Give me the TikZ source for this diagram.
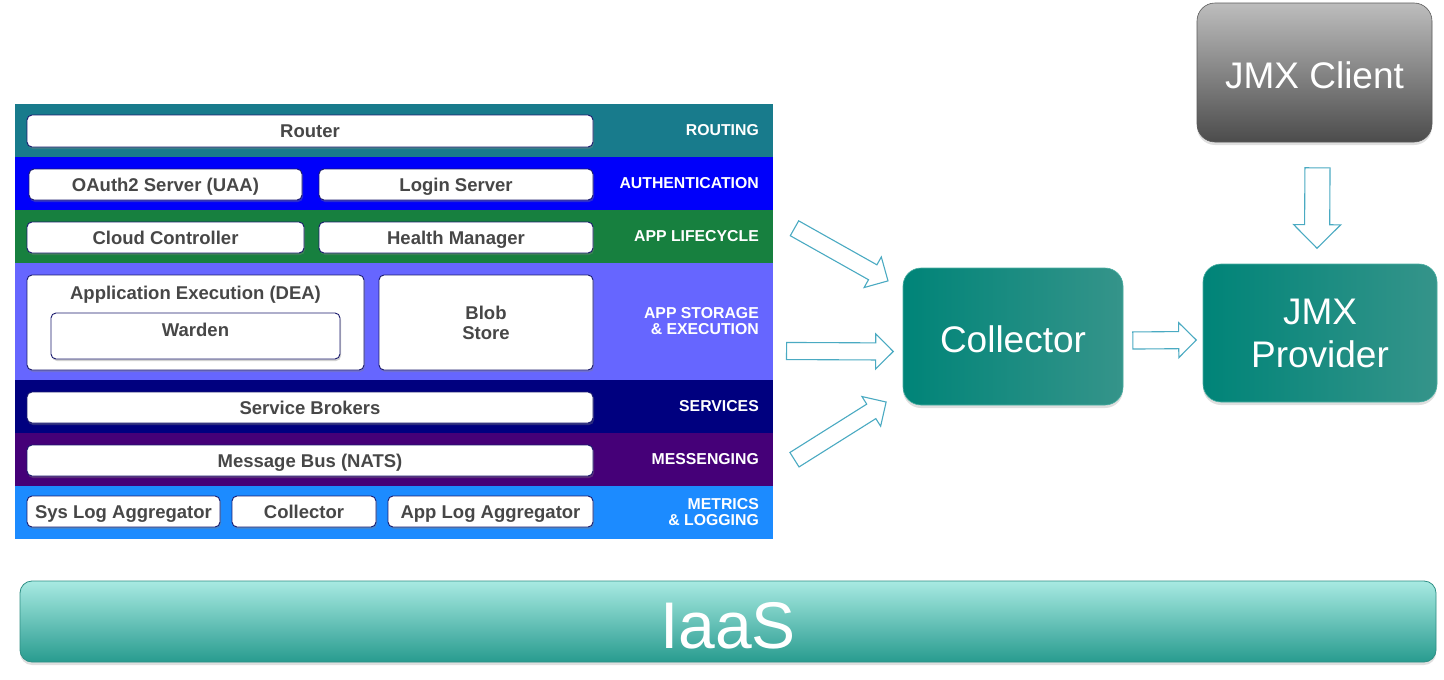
\documentclass[tikz,border=0pt]{standalone}
\usepackage{fontspec}
\setmainfont{Liberation Sans}
\usetikzlibrary{shapes.arrows,shadows,calc}

\definecolor{routing}{HTML}{187B8C}
\definecolor{auth}{HTML}{0000FA}
\definecolor{lifecycle}{HTML}{17803F}
\definecolor{storage}{HTML}{6666FF}
\definecolor{services}{HTML}{00007F}
\definecolor{messaging}{HTML}{450078}
\definecolor{metrics}{HTML}{1C8BFF}
\definecolor{boxline}{HTML}{1B1B6E}
\definecolor{compgray}{HTML}{474747}
\definecolor{arrowline}{HTML}{4AAAC2}
\definecolor{tealA}{HTML}{008478}
\definecolor{tealB}{HTML}{35948A}
\definecolor{tealC}{HTML}{4AAEA2}
\definecolor{greyA}{HTML}{BDBDBD}
\definecolor{greyB}{HTML}{4C4C4C}
\definecolor{greyC}{HTML}{5A5A5A}
\definecolor{iaasA}{HTML}{A8EAE2}
\definecolor{iaasB}{HTML}{289B8F}
\definecolor{iaasC}{HTML}{2E8F85}

\newcommand\blockarrow[4][]{\path let \p1=(#3),\p2=(#4),
	\n1={atan2(\y2-\y1,\x2-\x1)},\n2={veclen(\x2-\x1,\y2-\y1)} in
	node[hollow arrow,#1,minimum height=\n2,rotate=\n1,anchor=tail] (#2) at (#3) {};}

\begin{document}
\begin{tikzpicture}[x=1pt,y=-1pt,
	comp box/.style={draw=boxline,fill=white,rounded corners=5pt,line width=0.9pt,
		text=compgray,font=\fontsize{18.5}{20}\selectfont\bfseries,inner sep=0pt,align=center,
		text height=13.2pt,text depth=0pt,
		drop shadow={shadow xshift=1pt,shadow yshift=-2pt,opacity=0.35}},
	comp text/.style={text=compgray,font=\fontsize{18.5}{20}\selectfont\bfseries,inner sep=0pt},
	layer label/.style={anchor=east,text=white,align=right,inner sep=0pt,
		font=\fontsize{15.8}{16}\selectfont\bfseries},
	big box/.style={rounded corners=18pt,text=white,align=center,
		font=\fontsize{37}{43}\selectfont,
		drop shadow={shadow xshift=0pt,shadow yshift=-3pt,opacity=0.25}},
	hollow arrow/.style={single arrow,draw=arrowline,fill=white,line width=1.1pt,
		inner sep=0pt,inner ysep=8pt,single arrow head extend=9pt,
		single arrow tip angle=90,minimum width=0pt}]

	\useasboundingbox (0,0) rectangle (1444,680);
	\fill[white] (0,0) rectangle (1444,680);

	\fill[routing] (15,104) rectangle (773,157);
	\fill[auth] (15,157) rectangle (773,210);
	\fill[lifecycle] (15,210) rectangle (773,263);
	\fill[storage] (15,263) rectangle (773,380);
	\fill[services] (15,380) rectangle (773,433);
	\fill[messaging] (15,433) rectangle (773,486);
	\fill[metrics] (15,486) rectangle (773,539);

	\node[comp box,minimum width=566,minimum height=32] (router) at (310,131) {Router};
	\node[comp box,minimum width=273,minimum height=31] (uaa) at (165.5,184.5) {OAuth2 Server (UAA)};
	\node[comp box,minimum width=274,minimum height=31] (login) at (456,184.5) {Login Server};
	\node[comp box,minimum width=277,minimum height=31] (cc) at (165.5,237.5) {Cloud Controller};
	\node[comp box,minimum width=274,minimum height=31] (hm) at (456,237.5) {Health Manager};
	\node[comp box,minimum width=337,minimum height=95,
		label={[comp text,anchor=north,yshift=-11pt]north:Application Execution (DEA)}] (dea) at (195.5,322.5) {};
	\node[comp box,minimum width=289,minimum height=46,
		label={[comp text,anchor=north,yshift=-10pt]north:Warden}] (warden) at (195.5,336) {};
	\node[comp box,text height={},text depth={},minimum width=214,minimum height=95] (blob) at (486,322.5) {Blob\\Store};
	\node[comp box,minimum width=566,minimum height=31] (brokers) at (310,407.5) {Service Brokers};
	\node[comp box,minimum width=566,minimum height=31] (nats) at (310,460.5) {Message Bus (NATS)};
	\node[comp box,minimum width=193,minimum height=31] (syslog) at (123.5,511.5) {Sys Log Aggregator};
	\node[comp box,minimum width=144,minimum height=31] (mcoll) at (304,511.5) {Collector};
	\node[comp box,minimum width=205,minimum height=31] (applog) at (490.5,511.5) {App Log Aggregator};

	\node[layer label] (lrouting) at (759,130) {ROUTING};
	\node[layer label] (lauth) at (759,183) {AUTHENTICATION};
	\node[layer label] (llife) at (759,236) {APP LIFECYCLE};
	\node[layer label] (lstorage) at (759,321) {APP STORAGE\\\& EXECUTION};
	\node[layer label] (lservices) at (759,406) {SERVICES};
	\node[layer label] (lmsg) at (759,459) {MESSENGING};
	\node[layer label] (lmetrics) at (759,512) {METRICS\\\& LOGGING};

	\node[big box,left color=tealA,right color=tealB,draw=tealC,line width=0.6pt,
		text height=32.5pt,minimum width=220,minimum height=137] (coll) at (1013,336.5) {Collector};
	\node[big box,left color=tealA,right color=tealB,draw=tealC,line width=0.6pt,
		minimum width=234,minimum height=138] (prov) at (1320,333) {JMX\\Provider};
	\node[big box,top color=greyA,bottom color=greyB,draw=greyC,line width=0.6pt,
		text height=32.5pt,minimum width=235,minimum height=139] (client) at (1314.5,72.5) {JMX Client};
	\node[big box,top color=iaasA,bottom color=iaasB,draw=iaasC,line width=0.8pt,
		rounded corners=12pt,minimum width=1416,minimum height=81,text height=54pt,
		font=\fontsize{66}{70}\selectfont] (iaas) at (728,621.5) {IaaS};

	\coordinate (in1) at (794,228);
	\coordinate (in2) at (786,351);
	\coordinate (in3) at (794,460);
	\coordinate (tip1) at ([xshift=-15pt,yshift=-13pt]coll.north west);
	\coordinate (tip2) at ([xshift=-10pt,yshift=-15pt]coll.west);
	\coordinate (tip3) at ([xshift=-17pt,yshift=3pt]coll.south west);
	\coordinate (out4) at ([xshift=9pt,yshift=-4pt]coll.east);
	\coordinate (tip4) at ([xshift=-7pt,yshift=-7pt]prov.west);
	\coordinate (out5) at ([xshift=3pt,yshift=-25pt]client.south);
	\coordinate (tip5) at ([xshift=-3pt,yshift=16pt]prov.north);

	\blockarrow{a1}{in1}{tip1}
	\blockarrow{a2}{in2}{tip2}
	\blockarrow{a3}{in3}{tip3}
	\blockarrow{a4}{out4}{tip4}
	\blockarrow[inner ysep=12pt,single arrow head extend=11pt]{a5}{out5}{tip5}
\end{tikzpicture}
\end{document}
